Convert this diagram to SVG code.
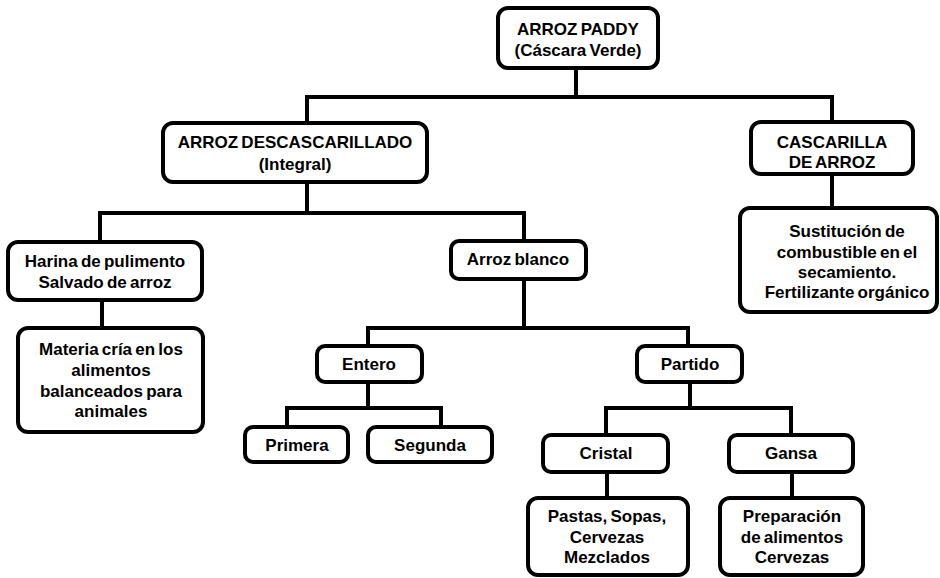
<svg xmlns="http://www.w3.org/2000/svg" width="940" height="578" viewBox="0 0 940 578">
<style>
.box{fill:#fff;stroke:#000;stroke-width:4}
.ln{fill:none;stroke:#000;stroke-width:4;stroke-linejoin:miter}
text{font-family:"Liberation Sans",Arial,sans-serif;font-weight:bold;font-size:17px;word-spacing:-1.5px;fill:#000;text-anchor:middle}
</style>
<rect width="940" height="578" fill="#fff"/>
<g id="connectors">
<path class="ln" d="M576 68V97M307 123V97H832V122"/>
<path class="ln" d="M307 182V213M100 242V213H524V241"/>
<path class="ln" d="M832 174V208"/>
<path class="ln" d="M102 300V328"/>
<path class="ln" d="M524 279V328M368 346V328H688V346"/>
<path class="ln" d="M368 382V408M287 427V408H441V427"/>
<path class="ln" d="M690 382V408M606 435V408H791V435"/>
<path class="ln" d="M607 472V498M792 472V498"/>
</g>
<g id="n-root">
<rect class="box" x="498" y="8" width="160" height="60" rx="10"/>
<text x="578" y="35">ARROZ PADDY</text>
<text x="578" y="56">(Cáscara Verde)</text>
</g>
<g id="n-descascarillado">
<rect class="box" x="163" y="123" width="264" height="59" rx="10"/>
<text x="295" y="148">ARROZ DESCASCARILLADO</text>
<text x="295" y="170">(Integral)</text>
</g>
<g id="n-cascarilla">
<rect class="box" x="751" y="122" width="162" height="52" rx="10"/>
<text x="832" y="148">CASCARILLA</text>
<text x="832" y="168">DE ARROZ</text>
</g>
<g id="n-sustitucion">
<rect class="box" x="740" y="208" width="197" height="104" rx="10"/>
<text x="847" y="237">Sustitución de</text>
<text x="847" y="258">combustible en el</text>
<text x="847" y="278">secamiento.</text>
<text x="847" y="298">Fertilizante orgánico</text>
</g>
<g id="n-harina">
<rect class="box" x="8" y="242" width="194" height="58" rx="10"/>
<text x="105" y="267">Harina de pulimento</text>
<text x="105" y="288">Salvado de arroz</text>
</g>
<g id="n-materia">
<rect class="box" x="18" y="328" width="185" height="104" rx="10"/>
<text x="111" y="355">Materia cría en los</text>
<text x="111" y="376">alimentos</text>
<text x="111" y="397">balanceados para</text>
<text x="111" y="417">animales</text>
</g>
<g id="n-blanco">
<rect class="box" x="451" y="241" width="135" height="38" rx="8"/>
<text x="518" y="265">Arroz blanco</text>
</g>
<g id="n-entero">
<rect class="box" x="317" y="346" width="105" height="36" rx="8"/>
<text x="369" y="370">Entero</text>
</g>
<g id="n-partido">
<rect class="box" x="637" y="346" width="105" height="36" rx="8"/>
<text x="690" y="370">Partido</text>
</g>
<g id="n-primera">
<rect class="box" x="245" y="427" width="103" height="35" rx="8"/>
<text x="297" y="451">Primera</text>
</g>
<g id="n-segunda">
<rect class="box" x="368" y="427" width="124" height="35" rx="8"/>
<text x="430" y="451">Segunda</text>
</g>
<g id="n-cristal">
<rect class="box" x="543" y="435" width="125" height="37" rx="8"/>
<text x="606" y="459">Cristal</text>
</g>
<g id="n-gansa">
<rect class="box" x="729" y="435" width="124" height="37" rx="8"/>
<text x="791" y="459">Gansa</text>
</g>
<g id="n-pastas">
<rect class="box" x="528" y="498" width="160" height="77" rx="10"/>
<text x="607" y="522">Pastas, Sopas,</text>
<text x="607" y="543">Cervezas</text>
<text x="607" y="563">Mezclados</text>
</g>
<g id="n-preparacion">
<rect class="box" x="720" y="498" width="143" height="77" rx="10"/>
<text x="792" y="522">Preparación</text>
<text x="792" y="543">de alimentos</text>
<text x="792" y="563">Cervezas</text>
</g>
</svg>
